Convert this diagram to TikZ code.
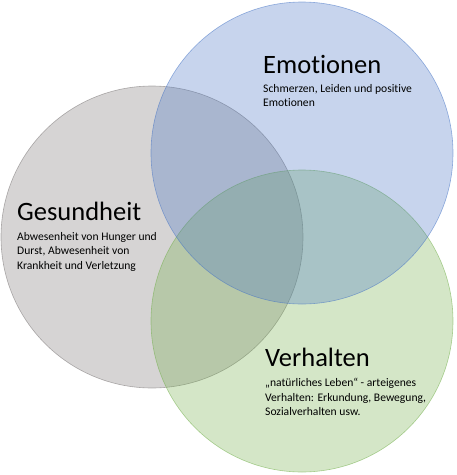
\documentclass[tikz,border=0pt]{standalone}
\usepackage{fontspec}
\setmainfont{Carlito}[Ligatures=NoCommon]
\usetikzlibrary{positioning}
\definecolor{EmoBlue}{RGB}{68,114,196}
\definecolor{GesGrey}{RGB}{118,113,113}
\definecolor{VerGreen}{RGB}{112,173,71}

\tikzset{
  area/.style={circle, minimum size=302pt, inner sep=0pt,
    fill opacity=0.3, draw opacity=0.55, line width=0.6pt},
  heading/.style={anchor=base west, inner sep=0pt,
    font=\fontsize{26.5}{30}\selectfont},
  desc/.style={anchor=north west, inner sep=0pt, align=left,
    font=\fontsize{11.6}{14.5}\selectfont}
}

\begin{document}
\begin{tikzpicture}[x=1pt,y=-1pt]
\useasboundingbox (0,0) rectangle (457,475);
% the three circles
\node[area, fill=GesGrey, draw=GesGrey] (ges) at (152,237) {};
\node[area, fill=VerGreen, draw=VerGreen] (ver) at (302,321) {};
\node[area, fill=EmoBlue, draw=EmoBlue] (emo) at (302,153) {};
% labels
\node[heading] (emoT) at (263,73) {Emotionen};
\node[desc] (emoD) at (263,84) {Schmerzen, Leiden und positive\\Emotionen};
\node[heading] (gesT) at (17,220) {Gesundheit};
\node[desc] (gesD) at (17,232) {Abwesenheit von Hunger und\\Durst, Abwesenheit von\\Krankheit und Verletzung};
\node[heading] (verT) at (265,366) {Verhalten};
\node[desc] (verD) at (265,378) {„natürliches Leben“ - arteigenes\\Verhalten: Erkundung, Bewegung,\\Sozialverhalten usw.};
\end{tikzpicture}
\end{document}
